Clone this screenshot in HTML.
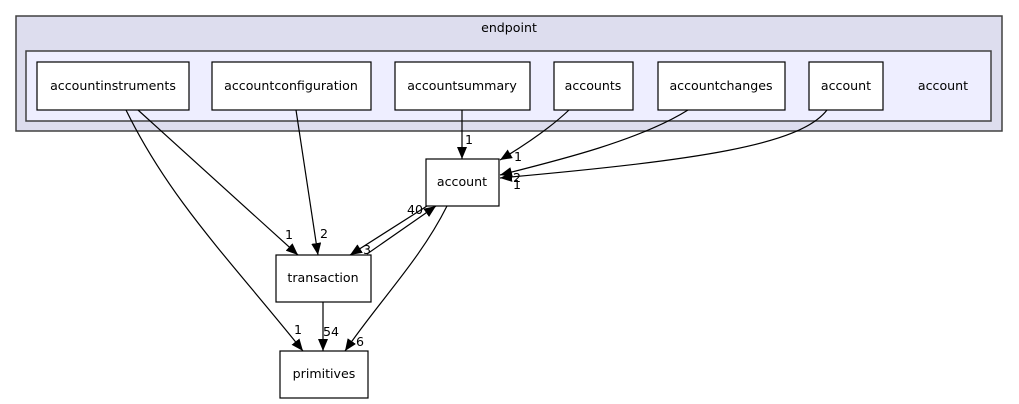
<!DOCTYPE html>
<html><head><meta charset="utf-8"><style>
html,body{margin:0;padding:0;background:#fff;}
svg{display:block;}
text{font-family:"DejaVu Sans","Liberation Sans",sans-serif;font-size:12.6px;fill:#000;}
.n{fill:#fff;stroke:#000;stroke-width:1.2;}
.e{fill:none;stroke:#000;stroke-width:1.2;}
</style></head><body>
<svg width="1019" height="404" viewBox="0 0 1019 404" xmlns="http://www.w3.org/2000/svg">
<defs><marker id="a" viewBox="0 0 12 10" refX="12" refY="5" markerWidth="12" markerHeight="10" markerUnits="userSpaceOnUse" orient="auto"><path d="M0,0 L12,5 L0,10 z" fill="#000"/></marker></defs>
<rect x="16" y="16" width="986" height="115" fill="#ddddee" stroke="#404040" stroke-width="1.5"/>
<text x="509" y="32" text-anchor="middle">endpoint</text>
<rect x="26" y="51" width="965" height="70" fill="#eeeeff" stroke="#404040" stroke-width="1.5"/>
<text x="943" y="90" text-anchor="middle">account</text>

<rect class="n" x="37" y="62" width="152" height="48"/><text x="113" y="90" text-anchor="middle">accountinstruments</text>
<rect class="n" x="212" y="62" width="159" height="48"/><text x="291" y="90" text-anchor="middle">accountconfiguration</text>
<rect class="n" x="395" y="62" width="135" height="48"/><text x="462" y="90" text-anchor="middle">accountsummary</text>
<rect class="n" x="554" y="62" width="79" height="48"/><text x="593" y="90" text-anchor="middle">accounts</text>
<rect class="n" x="658" y="62" width="127" height="48"/><text x="721" y="90" text-anchor="middle">accountchanges</text>
<rect class="n" x="809" y="62" width="74" height="48"/><text x="846" y="90" text-anchor="middle">account</text>

<rect class="n" x="426" y="159" width="73" height="47"/><text x="462" y="186" text-anchor="middle">account</text>
<rect class="n" x="276" y="255" width="95" height="47"/><text x="323" y="282" text-anchor="middle">transaction</text>
<rect class="n" x="280" y="351" width="88" height="47"/><text x="324" y="378" text-anchor="middle">primitives</text>

<path class="e" marker-end="url(#a)" d="M462,110 L462,159"/>
<text x="465" y="144">1</text>
<path class="e" marker-end="url(#a)" d="M569,110 C550,128 525,145 500,160"/>
<text x="514" y="161">1</text>
<path class="e" marker-end="url(#a)" d="M688,110 C640,140 560,160 500,175"/>
<text x="513" y="182">2</text>
<path class="e" marker-end="url(#a)" d="M827,110 C800,145 700,160 500,178"/>
<text x="513" y="189">1</text>
<path class="e" marker-end="url(#a)" d="M138,110 L298,255"/>
<text x="285" y="239">1</text>
<path class="e" marker-end="url(#a)" d="M126,110 C170,200 230,260 303,351"/>
<text x="294" y="334">1</text>
<path class="e" marker-end="url(#a)" d="M296,110 L318,255"/>
<text x="320" y="238">2</text>
<path class="e" marker-end="url(#a)" d="M427,206 L350,255"/>
<text x="363" y="254">3</text>
<path class="e" marker-end="url(#a)" d="M367,254 L436,206"/>
<text x="407" y="214">40</text>
<path class="e" marker-end="url(#a)" d="M447,206 C420,260 380,300 345,351"/>
<text x="356" y="346">6</text>
<path class="e" marker-end="url(#a)" d="M323,302 L323,351"/>
<text x="323" y="336">54</text>
</svg>
</body></html>
